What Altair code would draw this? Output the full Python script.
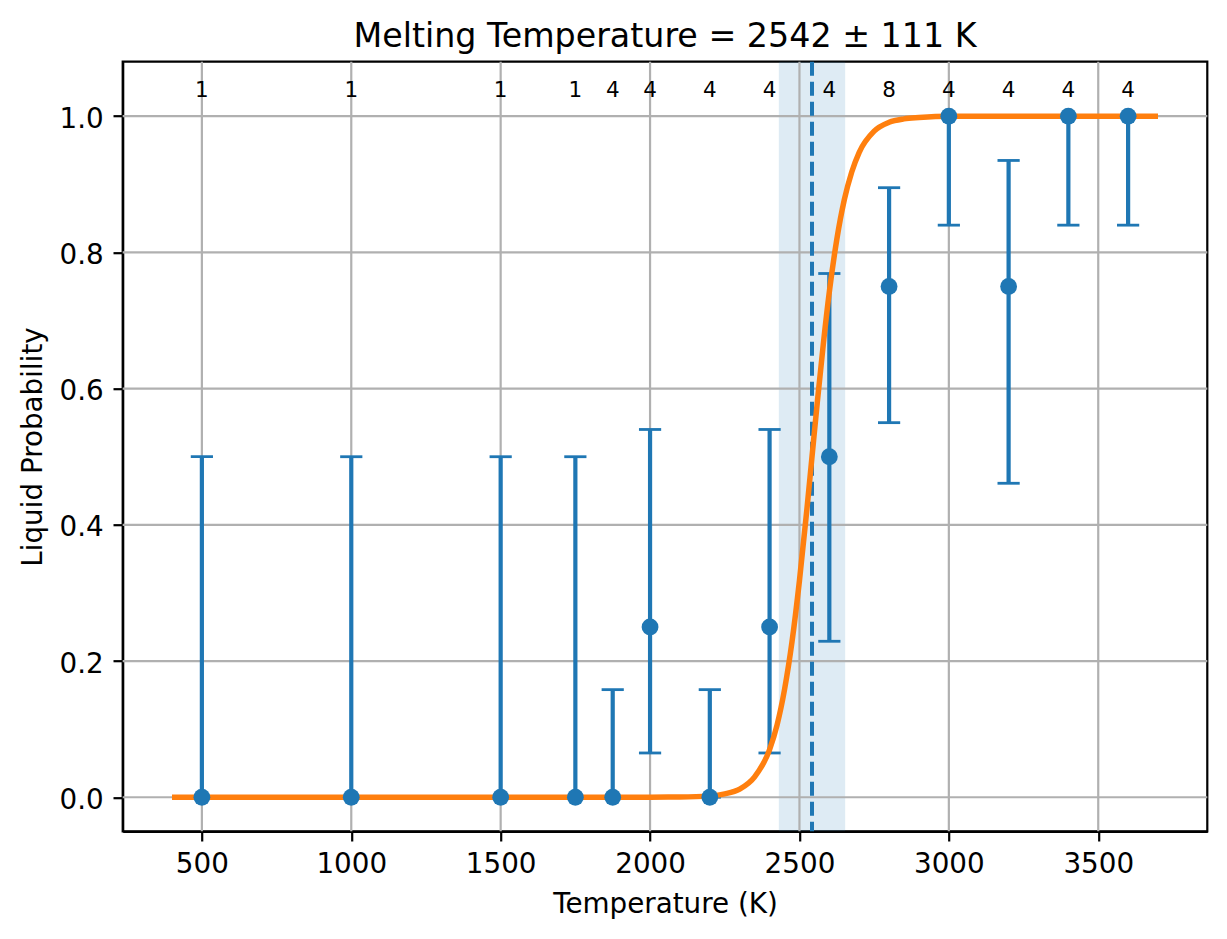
import altair as alt
import pandas as pd

# ---- data ----
temps = [500, 1000, 1500, 1750, 1875, 2000, 2200, 2400, 2600, 2800, 3000, 3200, 3400, 3600]
prob = [0, 0, 0, 0, 0, 0.25, 0, 0.25, 0.5, 0.75, 1.0, 0.75, 1.0, 1.0]
err_lo = [0, 0, 0, 0, 0, 0.065, 0, 0.065, 0.229, 0.55, 0.84, 0.461, 0.84, 0.84]
err_hi = [0.5, 0.5, 0.5, 0.5, 0.158, 0.54, 0.158, 0.54, 0.769, 0.895, 1.0, 0.935, 1.0, 1.0]
counts = [1, 1, 1, 1, 4, 4, 4, 4, 4, 8, 4, 4, 4, 4]

curve_t = [400, 1000, 1500, 2000, 2100, 2200, 2250, 2300, 2350, 2400, 2425, 2450,
           2475, 2500, 2525, 2542, 2560, 2580, 2600, 2625, 2650, 2675, 2700, 2750,
           2800, 2850, 2900, 3000, 3200, 3700]
curve_p = [0, 0, 0, 0.0001, 0.0003, 0.002, 0.005, 0.012, 0.030, 0.070, 0.106, 0.158,
           0.228, 0.318, 0.423, 0.5, 0.581, 0.666, 0.742, 0.819, 0.877, 0.918, 0.947, 0.978,
           0.991, 0.996, 0.998, 1.0, 1.0, 1.0]

melt_T = 2542
melt_err = 111
count_label_y = 1.028

x_ticks = [500, 1000, 1500, 2000, 2500, 3000, 3500]
y_ticks = [0.0, 0.2, 0.4, 0.6, 0.8, 1.0]

title_lines = ["Melting Temperature = 2542 \u00b1 111 K"]

# ---- tables ----
pts = pd.DataFrame({"T": temps, "p": prob, "lo": err_lo, "hi": err_hi,
                    "n": [str(c) for c in counts], "ly": [count_label_y] * len(temps)})
curve = pd.DataFrame({"T": curve_t, "p": curve_p})
band = pd.DataFrame({"a": [melt_T - melt_err], "b": [melt_T + melt_err], "m": [melt_T]})
xg = pd.DataFrame({"T": x_ticks})
yg = pd.DataFrame({"p": y_ticks})
ttl = pd.DataFrame({"t": title_lines})

W = 1084.6
H = 769.6
FONT = "DejaVu Sans"
BLUE = "#1f77b4"
ORANGE = "#ff7f0e"

xscale = alt.Scale(domain=[235, 3865], nice=False, zero=False)
yscale = alt.Scale(domain=[-0.05, 1.08], nice=False, zero=False)

xaxis = alt.Axis(values=x_ticks, format="d", title="Temperature (K)", grid=False,
                 labelBaseline="alphabetic", labelPadding=32, titleBaseline="alphabetic",
                 titleY=81, titleX=W / 2, titleAlign="center")
yaxis = alt.Axis(values=y_ticks, format=".1f", title="Liquid Probability", grid=False,
                 labelBaseline="alphabetic", labelOffset=11, labelPadding=9.7,
                 titleBaseline="alphabetic", titleX=-81, titleY=H / 2, titleAlign="center",
                 titleAngle=270)

base_x = alt.X("T:Q", scale=xscale, axis=xaxis)

band_l = alt.Chart(band).mark_rect(color=BLUE, opacity=0.15).encode(
    x=alt.X("a:Q", scale=xscale, axis=xaxis), x2="b:Q",
    y=alt.value(0), y2=alt.value(H))

xgrid = alt.Chart(xg).mark_rule(color="#b0b0b0", strokeWidth=2.2).encode(
    x=alt.X("T:Q", scale=xscale, axis=xaxis), y=alt.value(0), y2=alt.value(H))
ygrid = alt.Chart(yg).mark_rule(color="#b0b0b0", strokeWidth=2.2).encode(
    y=alt.Y("p:Q", scale=yscale, axis=yaxis), x=alt.value(0), x2=alt.value(W))

bars = alt.Chart(pts).mark_rule(color=BLUE, strokeWidth=4.2).encode(
    x=base_x, y=alt.Y("lo:Q", scale=yscale, axis=yaxis), y2="hi:Q")
cap_lo = alt.Chart(pts).mark_tick(color=BLUE, orient="horizontal", size=22.2,
                                  thickness=2.8, opacity=1).encode(
    x=base_x, y=alt.Y("lo:Q", scale=yscale, axis=yaxis))
cap_hi = alt.Chart(pts).mark_tick(color=BLUE, orient="horizontal", size=22.2,
                                  thickness=2.8, opacity=1).encode(
    x=base_x, y=alt.Y("hi:Q", scale=yscale, axis=yaxis))

dash = alt.Chart(band).mark_rule(color=BLUE, strokeWidth=4.0, strokeDash=[14, 6]).encode(
    x=alt.X("m:Q", scale=xscale, axis=xaxis), y=alt.value(0), y2=alt.value(H))

line = alt.Chart(curve).mark_line(color=ORANGE, strokeWidth=5.5, interpolate="monotone",
                                  strokeCap="butt").encode(
    x=base_x, y=alt.Y("p:Q", scale=yscale, axis=yaxis))

points = alt.Chart(pts).mark_point(filled=True, color=BLUE, opacity=1, size=283,
                                   shape="circle").encode(
    x=base_x, y=alt.Y("p:Q", scale=yscale, axis=yaxis))

labels = alt.Chart(pts).mark_text(font=FONT, fontSize=21.5, color="black",
                                  align="center", baseline="alphabetic").encode(
    x=base_x, y=alt.Y("ly:Q", scale=yscale, axis=yaxis), text="n:N")

title_l = alt.Chart(ttl).mark_text(font=FONT, fontSize=33.3, color="black",
                                   align="center", baseline="alphabetic").encode(
    x=alt.value(W / 2), y=alt.value(-15), text="t:N")

chart = alt.layer(band_l, xgrid, ygrid, bars, cap_lo, cap_hi, dash, line, points, labels,
                  title_l).properties(
    width=W, height=H,
    autosize=alt.AutoSizeParams(type="none"),
    padding={"left": 114.7, "top": 53.7, "right": 10, "bottom": 92},
    background="white",
).configure_view(
    stroke="black", strokeWidth=2.2
).configure_axis(
    domainColor="black", domainWidth=2.2, tickColor="black", tickWidth=2.2, tickSize=9.7,
    labelFont=FONT, labelFontSize=27.8, labelColor="black",
    titleFont=FONT, titleFontSize=27.8, titleFontWeight="normal", titleColor="black",
)

chart.save("out.html", embed_options={"renderer": "svg", "actions": False})
